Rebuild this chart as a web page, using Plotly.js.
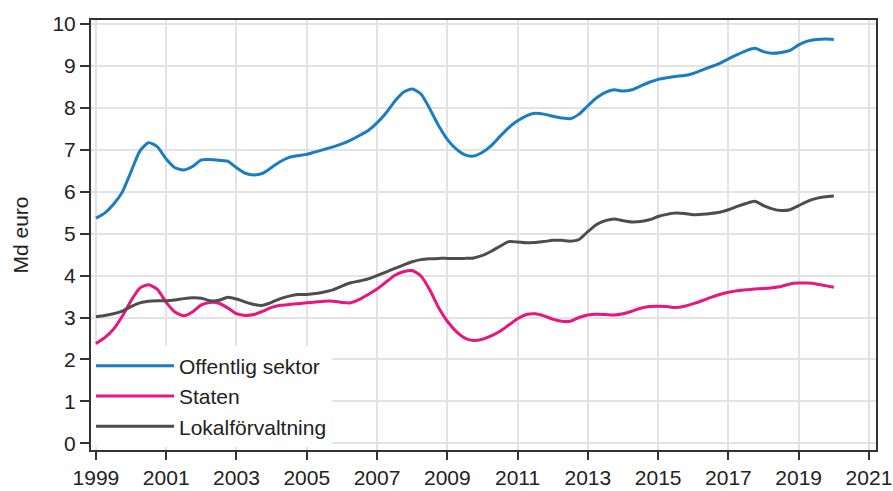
<!DOCTYPE html>
<html>
<head>
<meta charset="utf-8">
<script src="https://cdn.plot.ly/plotly-3.0.1.min.js"></script>
<style>html,body{margin:0;padding:0;background:#fff;}#chart{width:893px;height:491px;}</style>
</head>
<body>
<div id="chart"></div>
<script>
// Quarterly series, 1999 Q1 ... 2020 Q1 (Md euro)
var startYear = 1999;
var offentligSektor = [
  5.37, 5.49, 5.70, 5.99, 6.48, 6.97, 7.17, 7.07, 6.78, 6.57, 6.52, 6.60,
  6.76, 6.77, 6.75, 6.73, 6.57, 6.44, 6.40, 6.44, 6.58, 6.72, 6.82, 6.86,
  6.89, 6.95, 7.01, 7.07, 7.14, 7.23, 7.34, 7.46, 7.64, 7.87, 8.15, 8.37,
  8.45, 8.33, 7.98, 7.58, 7.25, 7.02, 6.88, 6.85, 6.94, 7.10, 7.32, 7.53,
  7.69, 7.81, 7.87, 7.85, 7.80, 7.76, 7.74, 7.85, 8.05, 8.24, 8.37, 8.43,
  8.40, 8.43, 8.52, 8.61, 8.68, 8.72, 8.75, 8.77, 8.82, 8.90, 8.98, 9.06,
  9.17, 9.27, 9.36, 9.42, 9.34, 9.30, 9.32, 9.37, 9.50, 9.59, 9.63, 9.64,
  9.63
];
var staten = [
  2.38, 2.52, 2.72, 3.03, 3.40, 3.70, 3.78, 3.67, 3.36, 3.13, 3.04, 3.13,
  3.30, 3.36, 3.34, 3.23, 3.09, 3.05, 3.07, 3.15, 3.24, 3.29, 3.31, 3.33,
  3.35, 3.37, 3.39, 3.39, 3.36, 3.35, 3.43, 3.55, 3.68, 3.84, 4.00, 4.09,
  4.12, 3.99, 3.66, 3.24, 2.91, 2.67, 2.51, 2.45, 2.48, 2.56, 2.67, 2.82,
  2.97, 3.07, 3.09, 3.04, 2.96, 2.91, 2.91, 3.00, 3.06, 3.08, 3.07, 3.06,
  3.09, 3.15, 3.22, 3.26, 3.27, 3.26, 3.24, 3.27, 3.33, 3.40, 3.48, 3.55,
  3.60, 3.64, 3.66, 3.68, 3.69, 3.71, 3.74, 3.80, 3.82, 3.82, 3.80, 3.76,
  3.72
];
var lokalforvaltning = [
  3.02, 3.05, 3.09, 3.15, 3.26, 3.35, 3.39, 3.40, 3.40, 3.42, 3.45, 3.47,
  3.46, 3.40, 3.41, 3.48, 3.44, 3.37, 3.31, 3.29, 3.36, 3.45, 3.51, 3.55,
  3.55, 3.57, 3.61, 3.66, 3.75, 3.83, 3.87, 3.92, 4.00, 4.08, 4.17, 4.25,
  4.33, 4.38, 4.40, 4.41, 4.41, 4.41, 4.41, 4.42, 4.48, 4.58, 4.70, 4.81,
  4.80, 4.78, 4.79, 4.81, 4.84, 4.84, 4.82, 4.86, 5.05, 5.22, 5.31, 5.35,
  5.31, 5.28, 5.29, 5.33, 5.41, 5.46, 5.49, 5.48, 5.45, 5.46, 5.48, 5.51,
  5.57, 5.65, 5.72, 5.77, 5.67, 5.59, 5.55, 5.57, 5.67, 5.77, 5.84, 5.88,
  5.90
];
var seriesNames = ['Offentlig sektor', 'Staten', 'Lokalförvaltning'];
var xTickYears = [1999, 2001, 2003, 2005, 2007, 2009, 2011, 2013, 2015, 2017, 2019, 2021];
var yTicks = [0, 1, 2, 3, 4, 5, 6, 7, 8, 9, 10];

// time index: quarter positions in decimal years
var quarters = offentligSektor.map(function (_, i) { return startYear + i / 4; });

var colors = ['#1a7dbf', '#e6177e', '#4d4d4d'];
var data = [offentligSektor, staten, lokalforvaltning].map(function (vals, k) {
  return {
    x: quarters, y: vals, type: 'scatter', mode: 'lines',
    name: seriesNames[k], legendgroup: 'g' + k,
    line: {color: colors[k], width: 3, shape: 'spline', smoothing: 0.6}
  };
});

var font = {family: '"Liberation Sans", Arial, sans-serif', size: 21, color: '#222'};
var layout = {
  width: 893, height: 491,
  margin: {l: 91, r: 17, t: 20, b: 41},
  paper_bgcolor: '#fff', plot_bgcolor: '#fff',
  font: font,
  showlegend: true,
  legend: {
    x: 0, y: 0.008, xanchor: 'left', yanchor: 'bottom',
    bgcolor: '#fff', borderwidth: 0,
    font: font,
    tracegroupgap: 6, itemwidth: 78,
    traceorder: 'normal'
  },
  xaxis: {
    range: [1998.86, 2021.2], tickvals: xTickYears, ticktext: xTickYears.map(String),
    showgrid: true, gridcolor: '#e3e3e3', gridwidth: 2,
    showline: true, linecolor: '#333', linewidth: 2, mirror: true,
    ticks: 'outside', ticklen: 8, tickwidth: 2, tickcolor: '#333',
    zeroline: false, tickfont: font
  },
  yaxis: {
    range: [-0.16, 10.095], tickvals: yTicks,
    showgrid: true, gridcolor: '#e3e3e3', gridwidth: 2,
    showline: true, linecolor: '#333', linewidth: 2, mirror: true,
    ticks: 'outside', ticklen: 9, tickwidth: 2, tickcolor: '#333',
    zeroline: false, tickfont: font,
    title: {text: 'Md euro', font: font, standoff: 18}
  }
};
Plotly.newPlot('chart', data, layout, {displayModeBar: false, staticPlot: true});
</script>
</body>
</html>
